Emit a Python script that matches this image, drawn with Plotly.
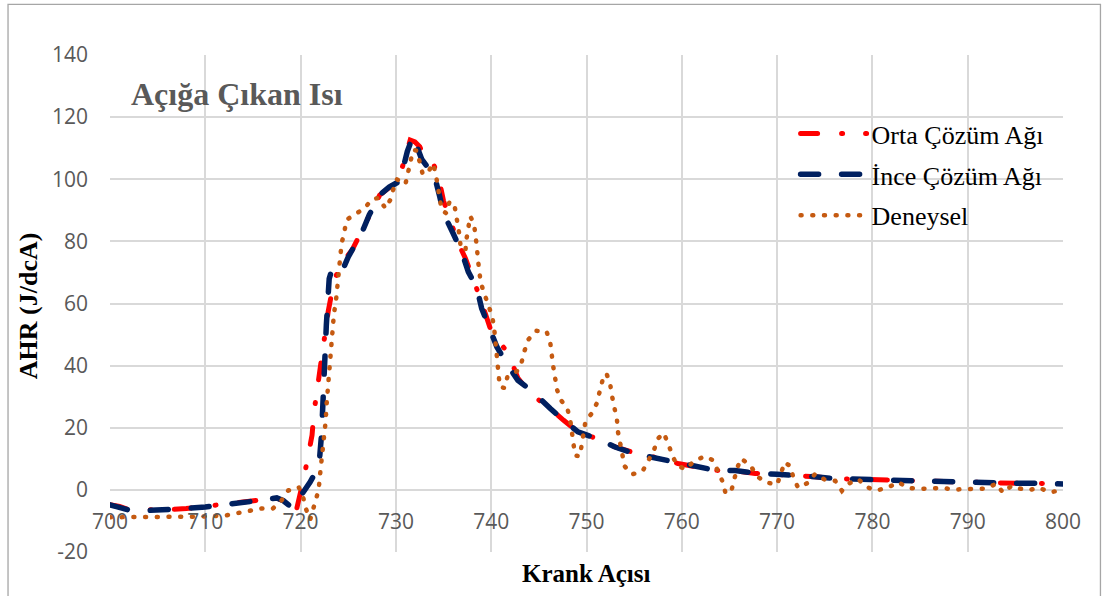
import plotly.graph_objects as go

# Crank angle (deg) and apparent heat release (J/deg CA) per series
orta_x = [700, 701, 702, 704, 706, 708, 710, 712, 714, 716, 717.5, 718.2, 719.0, 719.6,
          720.4, 720.8, 721.2, 721.4, 721.7, 722.0, 722.3, 722.6, 722.9, 723.3, 724.0,
          725.4, 726.4, 727.2, 728.3, 729.3, 730.3, 731.0, 731.5, 732.0, 732.5, 733.2,
          734.0, 734.5, 735.0, 735.7, 736.4, 737.3, 738.5, 738.8, 739.9, 740.6, 741.8,
          742.8, 744.1, 745.5, 746.2, 747.6, 749.1, 751.1, 753.0, 755.3, 757.0, 759.6,
          761.5, 763.5, 765.6, 767.7, 770, 772, 774, 776.2, 778.4, 780.3, 782.5, 784.5,
          786.7, 788.8, 790.9, 792.9, 795.1, 797.2, 800]
orta_y = [-4.8, -5.3, -6.4, -6.6, -6.4, -6.0, -5.4, -4.8, -4.0, -3.2, -2.6, -3.6, -6.8, -6.0,
          4.7, 11.8, 17.6, 24.9, 32, 38, 45, 52.5, 57.5, 64, 71.8,
          77.2, 83.6, 88.5, 94.9, 97.3, 100, 107.3, 112.6, 112, 110.5, 105.6,
          104.5, 100.3, 93, 86.9, 80.4, 74.5, 65.4, 62.1, 52, 48.7, 43.9,
          36, 31, 27.8, 26.2, 22.4, 18.7, 16.5, 13.8, 11.7, 10.6, 8.5,
          7.6, 6.3, 6.1, 5.3, 5.0, 4.4, 4.2, 3.6, 3.4, 3.3, 2.9, 2.8,
          2.5, 2.5, 2.3, 2.3, 2.1, 2.1, 1.9]

ince_x = [700, 701, 702, 704, 706, 708, 710, 712, 714, 716, 717.5, 718.2, 718.8, 719.4,
          720.0, 720.5, 721.0, 721.5, 722.0, 722.2, 722.3, 722.4, 722.6, 722.7, 722.8,
          723.0, 723.3, 723.8, 724.3, 725.0, 725.4, 726.4, 727.2, 728.3, 729.3, 730.3,
          730.8, 731.2, 731.8, 732.3, 732.7, 733.3, 733.9, 734.6, 735.0, 736.0, 736.9,
          737.6, 738.5, 739.0, 739.9, 740.6, 741.6, 742.8, 744.4, 745.5, 746.2, 747.6,
          749.1, 751.1, 753.0, 755.0, 757.4, 759.6, 761.5, 763.5, 765.6, 767.7, 770,
          772, 774, 776.2, 778.4, 780.3, 782.5, 784.5, 786.7, 788.8, 790.9, 792.9,
          795.1, 797.2, 800]
ince_y = [-4.8, -5.5, -6.5, -6.6, -6.5, -6.0, -5.5, -4.9, -4.2, -3.3, -2.6, -3.5, -5.0, -5.5,
          -2.0, 0, 2.5, 5.3, 10.5, 18, 28, 37.5, 46, 53, 60,
          68, 71, 70.5, 70, 75, 77.2, 82.6, 88.5, 94.9, 97.5, 99.2,
          104, 109, 113.9, 110, 106.5, 104, 102.9, 94.4, 89, 82.6, 76.6,
          70.2, 64.9, 58.4, 52, 46, 40.7, 35.3, 31.5, 28, 26.2, 22.4,
          18.7, 16.5, 13.8, 11.7, 10.1, 8.5, 7.6, 6.3, 6.2, 5.4, 5.0,
          4.4, 4.2, 3.6, 3.4, 3.3, 2.9, 2.8, 2.5, 2.5, 2.3, 2.3,
          2.1, 2.1, 1.9]

deney_x = [700, 702, 704, 706, 708, 709.6, 711, 712.2, 713.5, 714.7, 715.9, 717.1, 718.0,
           718.7, 719.8, 720.3, 720.6, 721.0, 721.6, 721.9, 722.0, 722.15, 722.3, 722.4,
           722.6, 722.65, 722.7, 722.8, 722.9, 723.0, 723.1, 723.2, 723.3, 723.4, 723.5,
           723.7, 723.8, 724.0, 724.1, 724.3, 724.6, 724.8, 725.7, 726.7, 727.5, 728.2,
           728.9, 729.4, 729.7, 730.1, 731.0, 731.3, 731.5, 731.8, 732.2, 732.5, 732.8,
           733.3, 733.9, 734.2, 734.4, 734.6, 734.8, 735.3, 735.6, 736.1, 736.3, 736.5,
           736.7, 736.8, 737.3, 737.4, 737.6, 737.8, 738.2, 738.4, 738.5, 738.6, 738.8,
           738.9, 739.3, 739.7, 740.1, 740.3, 740.4, 740.5, 740.6, 740.7, 740.9, 741.4,
           741.7, 742.7, 743.2, 743.5, 743.9, 744.7, 745.8, 746.2, 746.3, 746.5, 746.7,
           746.9, 747.3, 748.0, 748.3, 748.5, 748.6, 748.8, 749.3, 749.5, 749.7, 749.9,
           750.6, 751.1, 751.4, 751.7, 752.1, 752.5, 752.7, 753.0, 753.2, 753.3, 753.5,
           753.7, 754.0, 754.8, 755.9, 756.5, 757.1, 757.5, 758.1, 758.6, 759.0, 759.5,
           760.4, 761.3, 762.4, 763.3, 763.8, 764.3, 764.6, 765.2, 765.5, 765.8, 766.2,
           767.2, 767.9, 768.8, 770.0, 770.4, 770.8, 771.4, 771.7, 772.2, 773.2, 774.0,
           775.0, 776.1, 776.8, 777.5, 778.5, 779.4, 780.4, 781.6, 782.7, 783.7, 784.8,
           786.0, 787.3, 788.4, 789.5, 790.7, 791.9, 793.0, 793.7, 794.6, 795.5, 796.4,
           797.5, 798.6, 799.8]
deney_y = [-8.8, -8.8, -8.8, -8.8, -8.7, -8.6, -8.4, -8.2, -7.4, -6.8, -6.0, -6.0, -3.4,
           -0.2, 0.9, -2.8, -6.4, -9.6, -3.8, 0.1, 3.7, 7.5, 11.2, 15.1,
           19, 22.7, 26.5, 30.4, 34.2, 37.8, 41.5, 45.3, 49.3, 53, 56.8,
           60.5, 64.3, 70, 75.6, 79.3, 83.1, 86.9, 88.7, 90.6, 93.6, 94,
           90.6, 93.3, 96.5, 100, 98.4, 102.1, 105.6, 109.4, 109.2, 105.1, 101.8,
           101.8, 105.1, 101.4, 97.6, 93.8, 90.1, 89, 92.5, 92.5, 89, 85.2,
           81.5, 77.7, 77.2, 80.6, 84.5, 88.1, 85.6, 81.7, 78.1, 74.3, 70.5,
           66.7, 63, 59.5, 55.9, 52.3, 48.4, 44.7, 40.9, 36.9, 33.2, 32.8,
           36.4, 38.2, 41.2, 44.8, 48.4, 51.2, 51.1, 47.3, 43.7, 39.9, 36.2,
           32.3, 29, 26.1, 22.4, 18.7, 14.9, 11.1, 10.8, 14.7, 18.3, 22.2,
           24.8, 28, 31.9, 35.5, 37.5, 33.7, 29.9, 26.2, 22.4, 18.7, 14.9,
           11.1, 7.6, 5.0, 6.1, 9.5, 13, 16.5, 18.3, 14.7, 11.1, 7.9,
           6.6, 9.3, 10.8, 9.5, 6.1, 2.5, -1.2, -0.3, 3.3, 6.9, 10.1,
           7.9, 4.4, 2.4, 1.7, 5.2, 8.9, 7.6, 4.0, 0.7, 2.2, 5.2,
           3.3, 2.9, -0.3, 2.0, 3.5, 0.9, -0.2, 0.7, 2.5, 0.7, 0.3,
           0.4, 0.7, 0.1, 0.2, 0.4, 0.4, 2.0, -0.9, 1.3, 0.4, -0.1,
           0.7, -0.8, -0.1]

series_names = ["Orta Çözüm Ağı", "İnce Çözüm Ağı", "Deneysel"]
x_ticks = [700, 710, 720, 730, 740, 750, 760, 770, 780, 790, 800]
y_ticks = [-20, 0, 20, 40, 60, 80, 100, 120, 140]

SERIF = "Times New Roman, Liberation Serif, serif"
SANS = "Open Sans, sans-serif"
GRID = "#D9D9D9"
LABEL = "#595959"

fig = go.Figure()
fig.add_trace(go.Scatter(
    x=orta_x, y=orta_y, name=series_names[0], mode="lines",
    line=dict(color="#FF0000", width=5, dash="17px,24px,1px,23px"),
    legendgroup="a"))
fig.add_trace(go.Scatter(
    x=ince_x, y=ince_y, name=series_names[1], mode="lines",
    line=dict(color="#002060", width=5.5, dash="18px,23px"),
    legendgroup="b"))
fig.add_trace(go.Scatter(
    x=deney_x, y=deney_y, name=series_names[2], mode="lines",
    line=dict(color="#C55A11", width=4.5, dash="1px,10.7px"),
    legendgroup="c"))

W, H = 1105, 596
L, R, T, B = 110, 42, 55, 44

fig.update_layout(
    width=W, height=H,
    margin=dict(l=L, r=R, t=T, b=B),
    paper_bgcolor="white", plot_bgcolor="white",
    showlegend=True,
    legend=dict(
        x=0.7194, y=0.889, xanchor="left", yanchor="top",
        bgcolor="rgba(0,0,0,0)", borderwidth=0,
        font=dict(family=SERIF, size=26, color="black"),
        itemwidth=66, tracegroupgap=4,
    ),
    xaxis=dict(
        range=[700, 800], tickvals=x_ticks, ticktext=[str(v) for v in x_ticks],
        showgrid=True, gridcolor=GRID, gridwidth=1.5,
        zeroline=False, showline=False, ticks="",
        anchor="free", position=0.125,
        tickfont=dict(family=SANS, size=21, color=LABEL),
        ticklabelstandoff=17,
    ),
    yaxis=dict(
        range=[-20, 140], tickvals=y_ticks, ticktext=[str(v) for v in y_ticks],
        showgrid=True, gridcolor=GRID, gridwidth=1.5,
        zeroline=False, showline=False, ticks="",
        tickfont=dict(family=SANS, size=21, color=LABEL),
        ticklabelstandoff=21,
    ),
    shapes=[dict(
        type="rect", xref="paper", yref="paper",
        x0=-0.107, x1=1.0393, y0=-0.2, y1=1.1017,
        line=dict(color="#A6A6A6", width=1.3), fillcolor="rgba(0,0,0,0)",
        layer="below",
    )],
    annotations=[
        dict(text="<b>Açığa Çıkan Isı</b>", xref="paper", yref="paper",
             x=0.0200, y=0.9215, xanchor="left", yanchor="middle", showarrow=False,
             font=dict(family=SERIF, size=32, color=LABEL)),
        dict(text="<b>AHR (J/dcA)</b>", xref="paper", yref="paper",
             x=-0.086, y=0.4947, xanchor="center", yanchor="middle", showarrow=False,
             textangle=-90, font=dict(family=SERIF, size=26, color="black")),
        dict(text="<b>Krank Açısı</b>", xref="paper", yref="paper",
             x=0.5005, y=-0.0429, xanchor="center", yanchor="middle", showarrow=False,
             font=dict(family=SERIF, size=25, color="black")),
    ],
)

# Round line caps so dashes and dots have soft ends
caps_js = (
    "var gd=document.getElementById('{plot_id}');"
    "gd.querySelectorAll('path.js-line').forEach(function(p){"
    "p.style.strokeLinecap='round';});"
)

fig.write_html("out.html", config={"displayModeBar": False}, post_script=caps_js)
